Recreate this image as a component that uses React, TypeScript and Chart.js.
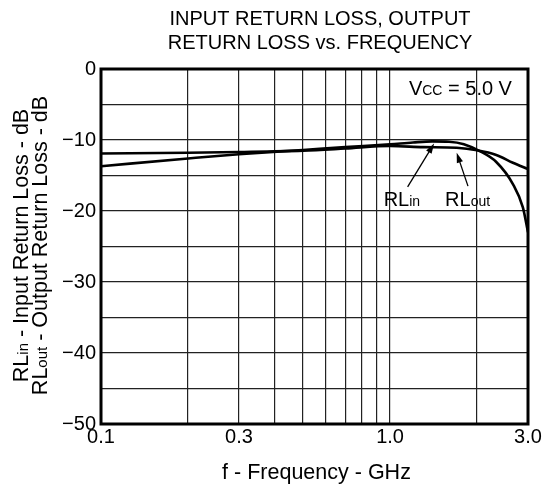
import React, { useEffect, useRef } from "react";
import { Chart, registerables } from "chart.js";
Chart.register(...registerables);

// ---- data ----
const freqIn = [0.1, 0.2, 0.3, 0.5, 0.7, 1.0, 1.2, 1.4, 1.6, 1.8, 2.05, 2.33, 2.66, 2.88, 3.0];
const rlIn = [-13.7, -12.6, -12.0, -11.4, -11.0, -10.6, -10.35, -10.2, -10.25, -10.6, -11.6, -13.1, -16.2, -19.5, -23.0];
const freqOut = [0.1, 0.2, 0.3, 0.5, 0.7, 1.0, 1.3, 1.7, 2.0, 2.33, 2.66, 3.0];
const rlOut = [-11.9, -11.8, -11.7, -11.5, -11.2, -10.85, -11.0, -11.1, -11.45, -12.1, -13.2, -14.1];

const xGridValues = [0.1, 0.2, 0.3, 0.4, 0.5, 0.6, 0.7, 0.8, 0.9, 1.0, 2.0, 3.0];
const xLabelValues = [0.1, 0.3, 1.0, 3.0];
const xLabelTexts = ["0.1", "0.3", "1.0", "3.0"];
const yMin = -50;
const yMax = 0;
const yGridStep = 5;
const yLabelStep = 10;

const titleLines = ["INPUT RETURN LOSS, OUTPUT", "RETURN LOSS vs. FREQUENCY"];
const xTitle = "f - Frequency - GHz";
// rich text: [text, isSmall]
const yTitle1: [string, boolean][] = [["RL", false], ["in", true], [" - Input Return Loss - dB", false]];
const yTitle2: [string, boolean][] = [["RL", false], ["out", true], [" - Output Return Loss - dB", false]];
const vccText: [string, boolean][] = [["V", false], ["CC", true], [" = 5.0 V", false]];
const rlInLabel: [string, boolean][] = [["RL", false], ["in", true]];
const rlOutLabel: [string, boolean][] = [["RL", false], ["out", true]];

// annotation anchors in data units (GHz, dB)
const vccAnchor = { x: 2.64, y: -2.7 };
const rlInLabelAnchor = { x: 0.95, y: -18.3 };
const rlOutLabelAnchor = { x: 1.55, y: -18.3 };
const rlInArrow = { from: { x: 1.15, y: -16.6 }, to: { x: 1.42, y: -10.5 } };
const rlOutArrow = { from: { x: 1.86, y: -16.5 }, to: { x: 1.70, y: -11.8 } };

const FONT = "'Liberation Sans', Arial, Helvetica, sans-serif";

function drawRich(ctx: CanvasRenderingContext2D, parts: [string, boolean][], x: number, y: number, big: number, small: number, align: "left" | "center" | "right") {
  let total = 0;
  const widths = parts.map(([t, s]) => {
    ctx.font = `${s ? small : big}px ${FONT}`;
    const w = ctx.measureText(t).width;
    total += w;
    return w;
  });
  let cx = align === "left" ? x : align === "center" ? x - total / 2 : x - total;
  ctx.textAlign = "left";
  ctx.textBaseline = "alphabetic";
  parts.forEach(([t, s], i) => {
    ctx.font = `${s ? small : big}px ${FONT}`;
    ctx.fillText(t, cx, y);
    cx += widths[i];
  });
}

function drawArrow(ctx: CanvasRenderingContext2D, x1: number, y1: number, x2: number, y2: number) {
  const ang = Math.atan2(y2 - y1, x2 - x1);
  const hl = 10, hw = 3.2;
  ctx.strokeStyle = "#000";
  ctx.lineWidth = 1.3;
  ctx.beginPath();
  ctx.moveTo(x1, y1);
  ctx.lineTo(x2 - Math.cos(ang) * hl * 0.8, y2 - Math.sin(ang) * hl * 0.8);
  ctx.stroke();
  ctx.beginPath();
  ctx.moveTo(x2, y2);
  ctx.lineTo(x2 - Math.cos(ang) * hl - Math.sin(ang) * hw, y2 - Math.sin(ang) * hl + Math.cos(ang) * hw);
  ctx.lineTo(x2 - Math.cos(ang) * hl + Math.sin(ang) * hw, y2 - Math.sin(ang) * hl - Math.cos(ang) * hw);
  ctx.closePath();
  ctx.fillStyle = "#000";
  ctx.fill();
}

const decorPlugin = {
  id: "decor",
  afterDatasetsDraw(chart: any) {
    const ctx: CanvasRenderingContext2D = chart.ctx;
    const { left, right, top, bottom } = chart.chartArea;
    const xs = chart.scales.x, ys = chart.scales.y;
    const px = (v: number) => xs.getPixelForValue(v);
    const py = (v: number) => ys.getPixelForValue(v);
    ctx.save();
    // frame
    ctx.strokeStyle = "#000";
    ctx.lineWidth = 3;
    ctx.strokeRect(left, top, right - left, bottom - top);
    ctx.fillStyle = "#000";
    // title
    ctx.font = `20px ${FONT}`;
    ctx.textAlign = "center";
    ctx.textBaseline = "alphabetic";
    ctx.fillText(titleLines[0], 320, 25);
    ctx.fillText(titleLines[1], 320, 49);
    // x title
    ctx.font = `21.5px ${FONT}`;
    ctx.fillText(xTitle, (left + right) / 2 + 2, 479);
    // y titles
    const cy = (top + bottom) / 2 - 1;
    ctx.save();
    ctx.translate(28, cy);
    ctx.rotate(-Math.PI / 2);
    drawRich(ctx, yTitle1, 0, 0, 21.5, 15, "center");
    ctx.restore();
    ctx.save();
    ctx.translate(47, cy);
    ctx.rotate(-Math.PI / 2);
    drawRich(ctx, yTitle2, 0, 0, 21.5, 15, "center");
    ctx.restore();
    // Vcc
    ctx.fillStyle = "#000";
    drawRich(ctx, vccText, px(vccAnchor.x), py(vccAnchor.y) + 7, 20, 14, "right");
    // RL labels
    drawRich(ctx, rlInLabel, px(rlInLabelAnchor.x), py(rlInLabelAnchor.y) + 7, 20, 14, "left");
    drawRich(ctx, rlOutLabel, px(rlOutLabelAnchor.x), py(rlOutLabelAnchor.y) + 7, 20, 14, "left");
    // arrows
    drawArrow(ctx, px(rlInArrow.from.x), py(rlInArrow.from.y), px(rlInArrow.to.x), py(rlInArrow.to.y));
    drawArrow(ctx, px(rlOutArrow.from.x), py(rlOutArrow.from.y), px(rlOutArrow.to.x), py(rlOutArrow.to.y));
    ctx.restore();
  },
};

export default function App() {
  const ref = useRef<HTMLCanvasElement | null>(null);
  useEffect(() => {
    if (!ref.current) return;
    const chart = new Chart(ref.current, {
      type: "line",
      data: {
        datasets: [
          {
            label: "RLin",
            data: freqIn.map((f, i) => ({ x: f, y: rlIn[i] })),
            borderColor: "#000",
            borderWidth: 2.6,
            pointRadius: 0,
            cubicInterpolationMode: "monotone",
            fill: false,
          },
          {
            label: "RLout",
            data: freqOut.map((f, i) => ({ x: f, y: rlOut[i] })),
            borderColor: "#000",
            borderWidth: 2.6,
            pointRadius: 0,
            cubicInterpolationMode: "monotone",
            fill: false,
          },
        ],
      },
      options: {
        responsive: false,
        animation: false,
        devicePixelRatio: 1,
        layout: { padding: { top: 69, right: 19, left: 0, bottom: 0 } },
        plugins: { legend: { display: false }, tooltip: { enabled: false }, title: { display: false } },
        scales: {
          x: {
            type: "logarithmic",
            min: xGridValues[0],
            max: xGridValues[xGridValues.length - 1],
            afterBuildTicks: (scale: any) => {
              scale.ticks = xGridValues.map((v) => ({ value: v }));
            },
            afterFit: (scale: any) => {
              scale.height = 66;
            },
            ticks: {
              autoSkip: false,
              maxRotation: 0,
              minRotation: 0,
              padding: 1,
              color: "#000",
              font: { size: 20, family: FONT },
              callback: (value: any) => {
                const idx = xLabelValues.findIndex((v) => Math.abs(v - Number(value)) < 1e-9);
                return idx >= 0 ? xLabelTexts[idx] : "";
              },
            },
            grid: { color: "#222", lineWidth: 1.2, drawTicks: false },
            border: { display: false },
          },
          y: {
            min: yMin,
            max: yMax,
            afterFit: (scale: any) => {
              scale.width = 101;
            },
            ticks: {
              stepSize: yGridStep,
              padding: 5,
              color: "#000",
              font: { size: 20, family: FONT },
              callback: (value: any) => {
                const v = Number(value);
                if (v % yLabelStep !== 0) return "";
                return v === 0 ? "0" : "\u2212" + Math.abs(v);
              },
            },
            grid: { color: "#222", lineWidth: 1.2, drawTicks: false },
            border: { display: false },
          },
        },
      },
      plugins: [decorPlugin],
    } as any);
    return () => chart.destroy();
  }, []);
  return (
    <div style={{ position: "fixed", left: 0, top: 0, width: 547, height: 490, background: "#fff" }}>
      <canvas ref={ref} width={547} height={490} style={{ width: 547, height: 490 }} />
    </div>
  );
}
